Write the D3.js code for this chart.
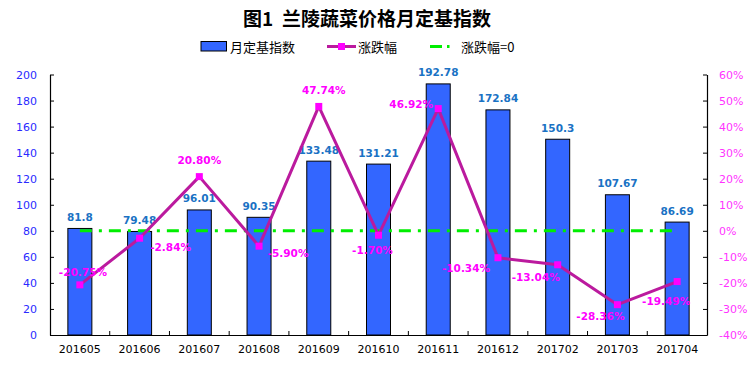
<!DOCTYPE html>
<html><head><meta charset="utf-8">
<script src="https://cdn.jsdelivr.net/npm/d3@7"></script>
<style>body{margin:0;background:#fff}svg{display:block}</style>
</head><body>
<svg id="c" width="754" height="366"></svg>
<script>
const categories = ['201605','201606','201607','201608','201609','201610','201611','201612','201702','201703','201704'];
const indexValues = [81.8,79.48,96.01,90.35,133.48,131.21,192.78,172.84,150.3,107.67,86.69];
const changeValues = [-20.75,-2.84,20.80,-5.90,47.74,-1.70,46.92,-10.34,-13.04,-28.36,-19.49];
const leftTicks = [0,20,40,60,80,100,120,140,160,180,200];
const rightTicks = [-40,-30,-20,-10,0,10,20,30,40,50,60];
// label placement offsets (style only)
const changeLabelOffsets = [[3,-13],[31,9],[0,-17],[29,7],[5,-16],[-6,15],[-27,-5],[-32,10],[-22,12],[-17,11],[-11,19]];

const svg = d3.select('#c');
const font = '"DejaVu Sans", Verdana, sans-serif';
const cjk = '"Noto Sans CJK SC", sans-serif';
const L = 50, R = 707, T = 74.5, B = 335;

const x = d3.scaleBand().domain(categories).range([L, R]).padding(0);
const yL = d3.scaleLinear().domain([0, 200]).range([B, T]);
const yR = d3.scaleLinear().domain([-40, 60]).range([B, T]);
const bw = 24;

// title
svg.append('text').attr('x', 367).attr('y', 26).attr('text-anchor','middle')
  .style('white-space','pre')
  .attr('font-family', cjk).attr('font-weight','bold').attr('font-size', 19).attr('fill','#000')
  .text('图1  兰陵蔬菜价格月定基指数');

// legend
const lg = svg.append('g').attr('font-family', cjk).attr('font-size', 13).attr('fill','#000');
lg.append('rect').attr('x',201).attr('y',41.5).attr('width',25.5).attr('height',9.5).attr('fill','#3366ff').attr('stroke','#000').attr('stroke-width',1);
lg.append('text').attr('x',230).attr('y',51.5).text('月定基指数');
lg.append('line').attr('x1',327).attr('x2',356).attr('y1',46.5).attr('y2',46.5).attr('stroke','#bb1a9e').attr('stroke-width',3);
lg.append('rect').attr('x',338).attr('y',43).attr('width',7).attr('height',7).attr('fill','#ff00ff');
lg.append('text').attr('x',358).attr('y',51.5).text('涨跌幅');
lg.append('line').attr('x1',430).attr('x2',450).attr('y1',46.5).attr('y2',46.5).attr('stroke','#00ee00').attr('stroke-width',3).attr('stroke-dasharray','12 5 2.5 50');
lg.append('text').attr('x',461).attr('y',51.5).text('涨跌幅=0');

// bars
svg.append('g').selectAll('rect').data(indexValues).join('rect')
  .attr('x',(d,i)=>x(categories[i]) + x.bandwidth()/2 - bw/2)
  .attr('y',d=>yL(d)).attr('width',bw).attr('height',d=>B - yL(d))
  .attr('fill','#3366ff').attr('stroke','#000').attr('stroke-width',1);

// axes
const axL = svg.append('g').attr('transform',`translate(${L},0)`)
  .call(d3.axisLeft(yL).tickValues(leftTicks).tickSizeInner(-4).tickSizeOuter(0).tickPadding(13));
axL.selectAll('text').attr('fill','#2a2aff').attr('font-size',11).attr('font-family',font);
const axR = svg.append('g').attr('transform',`translate(${R},0)`)
  .call(d3.axisRight(yR).tickValues(rightTicks).tickSizeInner(-4).tickSizeOuter(0).tickPadding(12).tickFormat(d=>d+'%'));
axR.selectAll('text').attr('fill','#ff33ff').attr('font-size',11).attr('font-family',font);
const axB = svg.append('g').attr('transform',`translate(0,${B})`)
  .call(d3.axisBottom(x).tickSize(0).tickPadding(10));
axB.selectAll('text').attr('fill','#000').attr('font-size',11).attr('font-family',font);
// category boundary ticks
svg.append('g').selectAll('line').data(categories.slice(1)).join('line')
  .attr('x1',d=>x(d)).attr('x2',d=>x(d)).attr('y1',B).attr('y2',B-4).attr('stroke','#000');
[axL,axR,axB].forEach(a=>{a.selectAll('.domain').attr('stroke','#000').attr('stroke-width',1.2); a.selectAll('.tick line').attr('stroke','#000');});

// zero line
const cx = i => x(categories[i]) + x.bandwidth()/2;
svg.append('line').attr('x1',cx(0)).attr('x2',cx(categories.length-1)).attr('y1',yR(0)).attr('y2',yR(0))
  .attr('stroke','#00ee00').attr('stroke-width',3).attr('stroke-dasharray','12 7 3 7');

// bar labels
svg.append('g').selectAll('text').data(indexValues).join('text')
  .attr('x',(d,i)=>cx(i)).attr('y',d=>yL(d)-7.5).attr('text-anchor','middle')
  .attr('font-family',font).attr('font-weight','bold').attr('font-size',10.5).attr('fill','#1a72c4')
  .text(d=>d);

// change line
const line = d3.line().x((d,i)=>cx(i)).y(d=>yR(d));
svg.append('path').datum(changeValues).attr('d',line).attr('fill','none').attr('stroke','#bb1a9e').attr('stroke-width',3).attr('stroke-linejoin','round');
svg.append('g').selectAll('rect').data(changeValues).join('rect')
  .attr('x',(d,i)=>cx(i)-3.5).attr('y',d=>yR(d)-3.5).attr('width',7).attr('height',7).attr('fill','#ff00ff');
svg.append('g').selectAll('text').data(changeValues).join('text')
  .attr('x',(d,i)=>cx(i)+changeLabelOffsets[i][0]).attr('y',(d,i)=>yR(d)+changeLabelOffsets[i][1]+4)
  .attr('text-anchor','middle').attr('font-family',font).attr('font-weight','bold').attr('font-size',10.5).attr('fill','#ff00ff')
  .text(d=>d.toFixed(2)+'%');
</script>
</body></html>
